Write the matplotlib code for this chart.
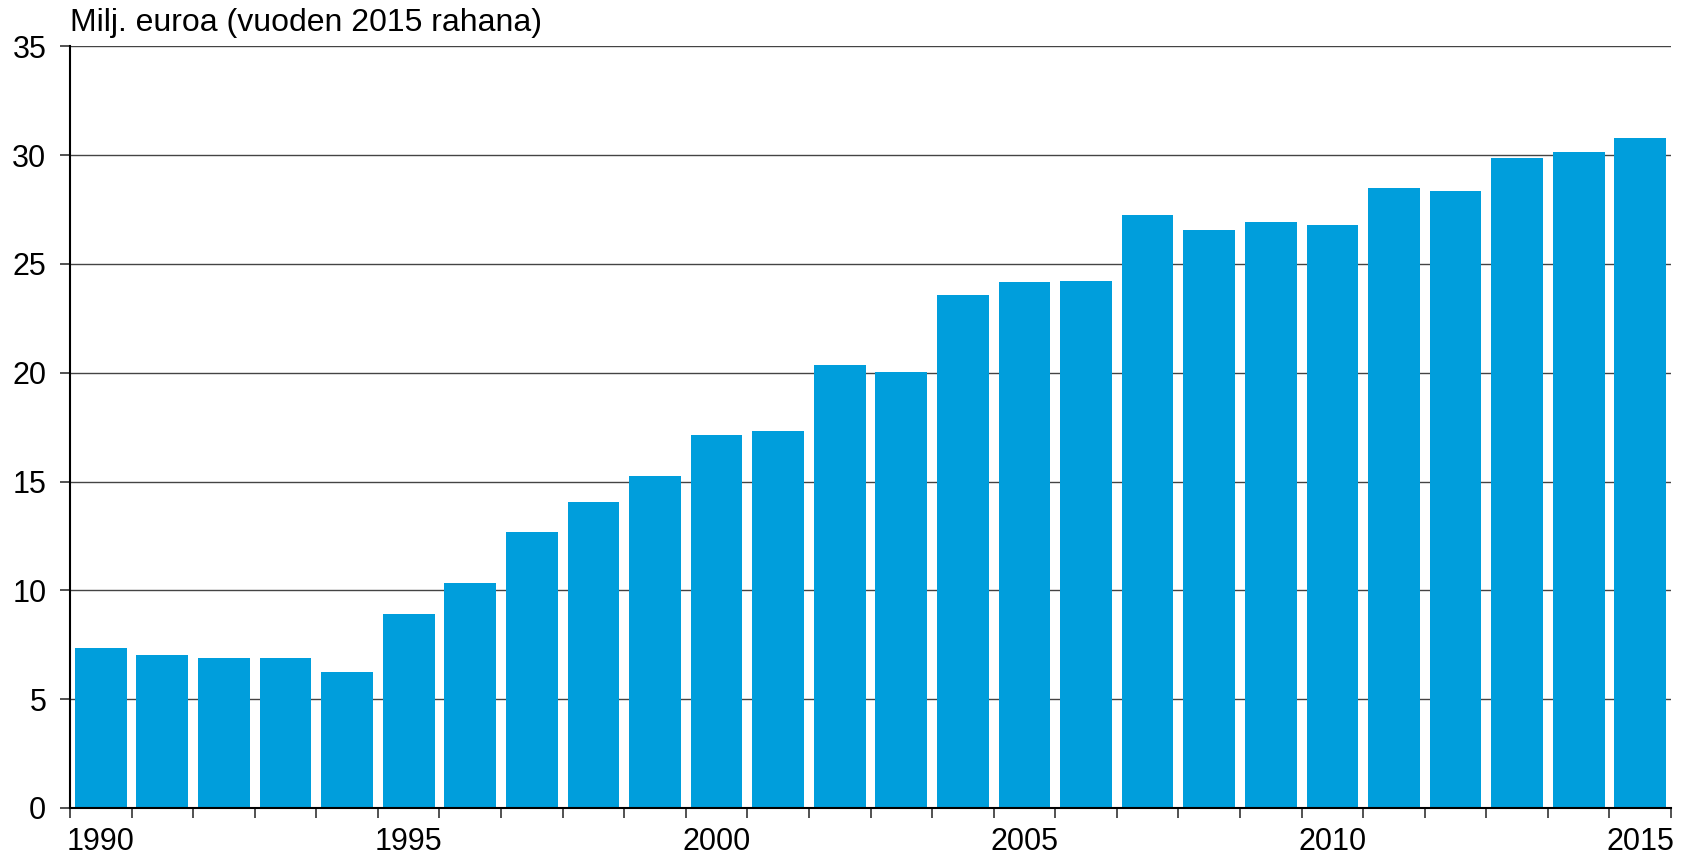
import numpy as np
import matplotlib.pyplot as plt
from matplotlib.ticker import FixedLocator

plt.rcParams["font.family"] = ["Liberation Sans", "DejaVu Sans"]

years = np.arange(1990, 2016)
values = [
    7.33, 7.03, 6.88, 6.88, 6.24, 8.91, 10.35, 12.67, 14.06, 15.25,
    17.13, 17.33, 20.35, 20.05, 23.56, 24.16, 24.21, 27.23, 26.58, 26.93,
    26.78, 28.51, 28.37, 29.85, 30.15, 30.79,
]
label_years = [1990, 1995, 2000, 2005, 2010, 2015]
title = "Milj. euroa (vuoden 2015 rahana)"

fig = plt.figure(figsize=(16.9, 8.57), dpi=100)
ax = fig.add_axes([0.0414, 0.0572, 0.9474, 0.8888])

ax.bar(years, values, width=0.84, color="#009EDC", zorder=2)

ax.set_ylim(0, 35)
ax.set_yticks(np.arange(0, 36, 5))
ax.set_xlim(years[0] - 0.5, years[-1] + 0.5)
ax.grid(axis="y", color="#444444", linewidth=1.0, zorder=1)

# labels centred on bars, tick marks on bar boundaries
ax.set_xticks(label_years)
ax.set_xticklabels([str(y) for y in label_years])
ax.xaxis.set_minor_locator(FixedLocator(np.arange(years[0] - 0.5, years[-1] + 1, 1)))
ax.tick_params(axis="x", which="major", length=0, pad=14, labelsize=22)
ax.tick_params(axis="x", which="minor", length=7, width=1.2, color="#333333")
ax.tick_params(axis="y", length=7, width=1.2, color="#333333", pad=10, labelsize=22)

for s in ["top", "right"]:
    ax.spines[s].set_visible(False)
for s in ["left", "bottom"]:
    ax.spines[s].set_color("black")
    ax.spines[s].set_linewidth(1.5)

fig.text(0.0415, 0.973, title, fontsize=23, ha="left", va="center")

fig.savefig("out.png", dpi=100)
